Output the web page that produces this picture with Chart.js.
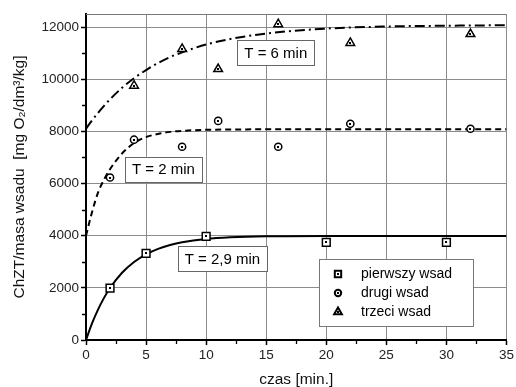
<!DOCTYPE html>
<html lang="pl">
  <head>
    <meta charset="UTF-8" />
    <title>ChZT / masa wsadu</title>
    <script src="https://cdn.jsdelivr.net/npm/chart.js"></script>
    <style>
      body { margin: 0; background: #fff; }
      #wrap { width: 516px; height: 387px; }
    </style>
  </head>
  <body>
    <div id="wrap"><canvas id="chzt" width="516" height="387"></canvas></div>

    <script>
      // pomiary
      const czas1 = [2, 5, 10, 20, 30];
      const wsad1 = [1990, 3320, 3970, 3740, 3740];
      const czas2 = [2, 4, 8, 11, 16, 22, 32];
      const wsad2 = [6230, 7680, 7410, 8400, 7410, 8290, 8100];
      const czas3 = [4, 8, 11, 16, 22, 32];
      const wsad3 = [9750, 11160, 10390, 12110, 11390, 11730];

      // krzywe dopasowania
      const czasFit = [0, 0.5, 1, 1.5, 2, 3, 4, 5, 6, 7, 8, 10, 12, 15, 20, 25, 30, 35];
      const fit1 = [0, 634, 1166, 1615, 1993, 2578, 2993, 3286, 3495, 3642, 3747, 3873, 3936, 3977, 3990, 3990, 3990, 3990];
      const fit2 = [4000, 4900, 5650, 6150, 6550, 7150, 7550, 7780, 7900, 7980, 8020, 8060, 8070, 8080, 8080, 8080, 8080, 8080];
      const fit3 = [8100, 8420, 8710, 8980, 9230, 9670, 10040, 10350, 10620, 10850, 11030, 11330, 11540, 11750, 11940, 12020, 12050, 12070];

      const labels = ["pierwszy wsad", "drugi wsad", "trzeci wsad"];
      const xTicks = [0, 5, 10, 15, 20, 25, 30, 35];
      const yTicks = [0, 2000, 4000, 6000, 8000, 10000, 12000];

      // opisy stalych czasowych (srodek ramki w jednostkach danych)
      const opisy = [
        { text: "T = 6 min", x: 15.8, y: 11010 },
        { text: "T = 2 min", x: 6.45, y: 6550 },
        { text: "T = 2,9 min", x: 11.35, y: 3120 },
      ];

      const pts = (xs, ys) => xs.map((x, i) => ({ x: x, y: ys[i] }));

      const FONT = "'Liberation Sans', Arial, sans-serif";

      // ramka, drobne znaczniki, opisy i legenda
      const extras = {
        id: "extras",
        beforeDatasetsDraw(chart) {
          const { ctx, chartArea: a, scales } = chart;
          ctx.save();
          ctx.strokeStyle = "#777";
          ctx.lineWidth = 1;
          ctx.beginPath();
          ctx.moveTo(a.left, a.top + 0.5);
          ctx.lineTo(a.right, a.top + 0.5);
          ctx.stroke();
          // minor ticks
          ctx.strokeStyle = "#000";
          ctx.lineWidth = 1.3;
          ctx.beginPath();
          for (let v = 1000; v < 12500; v += 2000) {
            const y = Math.round(scales.y.getPixelForValue(v)) + 0.5;
            ctx.moveTo(a.left - 4, y);
            ctx.lineTo(a.left - 1, y);
          }
          for (let v = 2.5; v < 35; v += 5) {
            const x = Math.round(scales.x.getPixelForValue(v)) + 0.5;
            ctx.moveTo(x, a.bottom + 1);
            ctx.lineTo(x, a.bottom + 4);
          }
          ctx.stroke();
          ctx.restore();
        },
        afterDatasetsDraw(chart) {
          const { ctx, scales } = chart;
          ctx.save();
          // small dot in each marker
          ctx.fillStyle = "#000";
          [0, 1, 2].forEach((i) => {
            chart.getDatasetMeta(i).data.forEach((p) => {
              ctx.fillRect(Math.round(p.x) - 1, Math.round(p.y) - 1, 2, 2);
            });
          });
          // text boxes
          ctx.font = "15px " + FONT;
          ctx.textAlign = "center";
          ctx.textBaseline = "middle";
          opisy.forEach((o) => {
            const cx = scales.x.getPixelForValue(o.x);
            const cy = scales.y.getPixelForValue(o.y);
            const w = ctx.measureText(o.text).width + 14;
            const h = 25;
            ctx.fillStyle = "#fff";
            ctx.fillRect(cx - w / 2, cy - h / 2, w, h);
            ctx.strokeStyle = "#666";
            ctx.lineWidth = 1;
            ctx.strokeRect(Math.round(cx - w / 2) + 0.5, Math.round(cy - h / 2) + 0.5, Math.round(w), h);
            ctx.fillStyle = "#000";
            ctx.fillText(o.text, cx, cy + 1);
          });
          // legend
          const lx = 319, ly = 259, lw = 154, lh = 67;
          ctx.fillStyle = "#fff";
          ctx.fillRect(lx, ly, lw, lh);
          ctx.strokeStyle = "#777";
          ctx.strokeRect(lx + 0.5, ly + 0.5, lw, lh);
          ctx.font = "14px " + FONT;
          ctx.textAlign = "left";
          const styles = ["rect", "circle", "triangle"];
          const radii = [4.5, 3.2, 4.5];
          labels.forEach((t, i) => {
            const y = ly + 15 + i * 19;
            ctx.strokeStyle = "#000";
            ctx.fillStyle = "#fff";
            ctx.lineWidth = 2;
            Chart.helpers.drawPoint(ctx, { pointStyle: styles[i], radius: radii[i], borderWidth: 2 }, lx + 19, y);
            ctx.fillStyle = "#000";
            ctx.fillRect(lx + 18, y - 1, 2, 2);
            ctx.fillText(t, lx + 42, y);
          });
          ctx.restore();
        },
      };

      const sizes = { rect: 5.5, circle: 3.6, triangle: 5 };
      const marker = (style) => ({
        showLine: false,
        pointStyle: style,
        pointRadius: sizes[style],
        pointBackgroundColor: "#fff",
        pointBorderColor: "#000",
        pointBorderWidth: 1.5,
        order: 0,
      });

      const curve = (data, dash) => ({
        data: pts(czasFit, data),
        showLine: true,
        borderColor: "#000",
        borderWidth: 2,
        borderDash: dash,
        pointRadius: 0,
        cubicInterpolationMode: "monotone",
        order: 1,
      });

      new Chart(document.getElementById("chzt"), {
        type: "scatter",
        data: {
          datasets: [
            Object.assign({ label: labels[0], data: pts(czas1, wsad1) }, marker("rect")),
            Object.assign({ label: labels[1], data: pts(czas2, wsad2) }, marker("circle")),
            Object.assign({ label: labels[2], data: pts(czas3, wsad3) }, marker("triangle")),
            curve(fit1, []),
            curve(fit2, [6, 4]),
            curve(fit3, [10, 4, 2, 4]),
          ],
        },
        options: {
          responsive: false,
          animation: false,
          layout: { padding: { top: 14, right: 8, left: 0, bottom: 0 } },
          plugins: { legend: { display: false }, tooltip: { enabled: false } },
          scales: {
            x: {
              type: "linear",
              min: 0,
              max: 35,
              afterBuildTicks: (s) => { s.ticks = xTicks.map((v) => ({ value: v })); },
              afterFit: (s) => { s.height = 47; },
              grid: { color: "#8c8c8c", lineWidth: 1, tickColor: "#000", tickLength: 5, tickWidth: 1.5 },
              border: { color: "#000", width: 2 },
              ticks: { color: "#222", font: { family: FONT, size: 13.5 }, padding: 2, callback: (v) => String(v) },
              title: {
                display: true,
                text: "czas [min.]",
                color: "#111",
                font: { family: FONT, size: 15.5, lineHeight: 1 },
                padding: { top: 0, bottom: 0 },
              },
            },
            y: {
              min: 0,
              max: 12500,
              afterBuildTicks: (s) => { s.ticks = yTicks.map((v) => ({ value: v })); },
              afterFit: (s) => { s.width = 86; },
              grid: { color: "#8c8c8c", lineWidth: 1, tickColor: "#000", tickLength: 5, tickWidth: 1.5 },
              border: { color: "#000", width: 2 },
              ticks: { color: "#222", font: { family: FONT, size: 13.5 }, padding: 2, callback: (v) => String(v) },
              title: {
                display: true,
                text: "ChZT/masa wsadu  [mg O\u2082/dm\u00b3/kg]",
                color: "#111",
                font: { family: FONT, size: 15.5 },
                padding: { top: 10, bottom: 0 },
              },
            },
          },
        },
        plugins: [extras],
      });
    </script>
  </body>
</html>
